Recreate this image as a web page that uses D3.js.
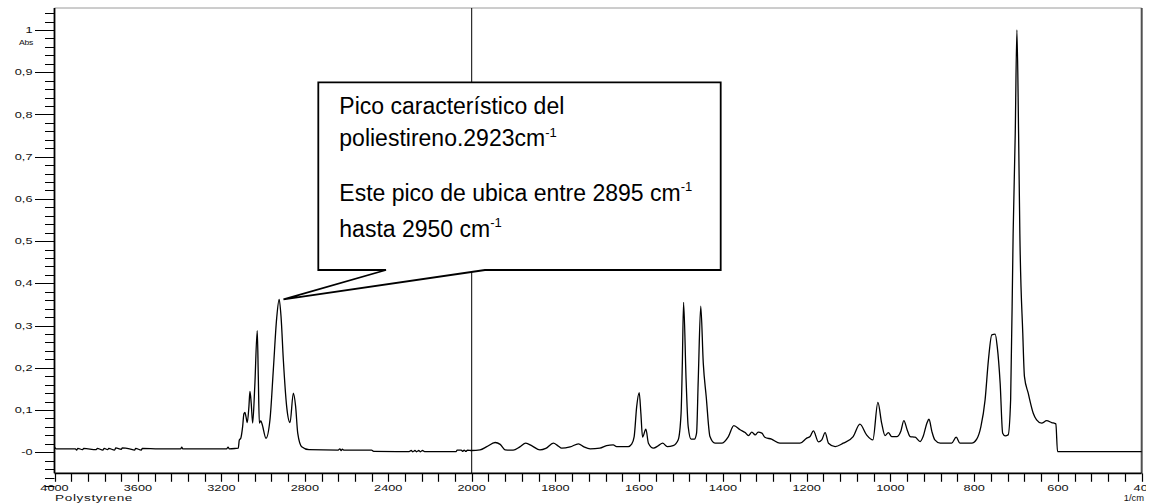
<!DOCTYPE html>
<html>
<head>
<meta charset="utf-8">
<script src="https://cdn.jsdelivr.net/npm/d3@7"></script>
<style>
  body { margin: 0; background: #fff; }
  svg { display: block; }
</style>
</head>
<body>
<svg id="chart" width="1155" height="504"></svg>
<script>
// FTIR absorbance spectrum of polystyrene (wavenumber in 1/cm, absorbance)
const wavenumbers = [
  4000, 3992, 3960, 3900, 3894, 3888, 3866, 3860, 3800, 3795, 3768, 3762, 3745, 3740,
  3712, 3706, 3680, 3675, 3640, 3616, 3611, 3584, 3579, 3500, 3395, 3390, 3385, 3300,
  3175, 3168, 3162, 3130, 3119, 3114, 3107, 3098, 3092, 3087, 3082, 3076, 3068, 3063,
  3057, 3050, 3040, 3028, 3023, 3018, 3011, 3005, 2986, 2967, 2951, 2935, 2923, 2914,
  2903, 2887, 2871, 2855, 2844, 2834, 2815, 2780, 2640, 2632, 2626, 2620, 2612, 2480,
  2470, 2300, 2290, 2282, 2272, 2264, 2254, 2246, 2236, 2226, 2160, 2074, 2070, 2050,
  2044, 2036, 2028, 2020, 2000, 1980, 1964, 1944, 1932, 1920, 1901, 1885, 1871, 1856,
  1837, 1823, 1805, 1794, 1785, 1765, 1745, 1732, 1717, 1694, 1678, 1662, 1654, 1626,
  1618, 1612, 1606, 1600, 1596, 1592, 1584, 1578, 1566, 1554, 1544, 1533, 1519, 1507,
  1500, 1497, 1494, 1488, 1483, 1476, 1468, 1463, 1459, 1453, 1447, 1440, 1431, 1419,
  1403, 1387, 1374, 1359, 1347, 1339, 1331, 1323, 1316, 1307, 1300, 1284, 1264, 1216,
  1200, 1192, 1184, 1172, 1164, 1156, 1148, 1132, 1113, 1089, 1073, 1057, 1042, 1030,
  1021, 1013, 1005, 997, 985, 975, 968, 960, 953, 941, 929, 922, 913, 908,
  901, 894, 881, 854, 843, 834, 806, 794, 784, 774, 766, 758, 750, 745,
  738, 732, 726, 719, 713, 707, 702, 698, 694, 691, 684, 680, 671, 659,
  651, 639, 627, 615, 605, 601, 400
];
const absorbance = [
  0.012, 0.008, 0.008, 0.008, 0.005, 0.009, 0.006, 0.009, 0.006, 0.009, 0.005, 0.009, 0.006, 0.009,
  0.005, 0.010, 0.007, 0.010, 0.008, 0.005, 0.009, 0.005, 0.009, 0.008, 0.008, 0.012, 0.008, 0.008,
  0.008, 0.012, 0.008, 0.009, 0.0095, 0.029, 0.033, 0.061, 0.091, 0.094, 0.084, 0.070, 0.108, 0.144,
  0.116, 0.069, 0.155, 0.288, 0.179, 0.069, 0.074, 0.067, 0.033, 0.077, 0.195, 0.317, 0.362, 0.321,
  0.219, 0.108, 0.070, 0.140, 0.108, 0.045, 0.013, 0.006, 0.005, 0.008, 0.004, 0.007, 0.005, 0.005,
  0.002, 0.0015, 0.004, 0.001, 0.004, 0.001, 0.004, 0.001, 0.004, 0.0015, 0.0015, 0.0015, 0.005, 0.005,
  0.002, 0.005, 0.002, 0.005, 0.004, 0.0054, 0.013, 0.023, 0.0185, 0.0054, 0.0047, 0.0125, 0.0213, 0.015,
  0.0054, 0.009, 0.0213, 0.015, 0.0095, 0.0125, 0.0197, 0.0125, 0.0078, 0.0095, 0.0156, 0.0173, 0.0133, 0.0133,
  0.019, 0.037, 0.108, 0.141, 0.092, 0.0355, 0.0545, 0.0213, 0.0095, 0.0156, 0.0213, 0.0133, 0.0156, 0.029,
  0.092, 0.21, 0.355, 0.171, 0.0606, 0.0308, 0.0308, 0.045, 0.171, 0.346, 0.211, 0.132, 0.037, 0.0213,
  0.0213, 0.037, 0.063, 0.053, 0.0464, 0.0393, 0.0474, 0.041, 0.0474, 0.045, 0.0355, 0.0308, 0.0213, 0.0213,
  0.0332, 0.037, 0.0504, 0.0244, 0.0291, 0.0464, 0.0213, 0.0133, 0.0213, 0.037, 0.0663, 0.041, 0.0291, 0.118,
  0.0687, 0.0393, 0.0464, 0.037, 0.037, 0.0504, 0.0748, 0.0528, 0.037, 0.0355, 0.0251, 0.037, 0.0687, 0.078,
  0.0488, 0.0291, 0.0213, 0.0213, 0.0355, 0.0213, 0.0213, 0.0308, 0.0606, 0.1238, 0.2186, 0.2778, 0.2794, 0.25,
  0.163, 0.045, 0.0386, 0.041, 0.1238, 0.5186, 0.755, 1.0, 0.755, 0.5186, 0.2818, 0.179, 0.1397, 0.0924,
  0.0765, 0.0687, 0.0748, 0.0701, 0.067, 0.0014, 0.0014
];

// Axis ticks and labels
const xMajorTicks  = [4000, 3600, 3200, 2800, 2400, 2000, 1800, 1600, 1400, 1200, 1000, 800, 600, 400];
const xTickLabels  = ["4000", "3600", "3200", "2800", "2400", "2000", "1800", "1600", "1400", "1200", "1000", "800", "600", "400"];
const yMajorTicks  = [0, 0.1, 0.2, 0.3, 0.4, 0.5, 0.6, 0.7, 0.8, 0.9, 1];
const yTickLabels  = ["-0", "0,1", "0,2", "0,3", "0,4", "0,5", "0,6", "0,7", "0,8", "0,9", "1"];

// Annotation
const peakWavenumber = 2923;
const calloutLines = [
  { text: "Pico característico del", sup: null },
  { text: "poliestireno.2923cm", sup: "-1" },
  { text: "Este pico de ubica entre 2895 cm", sup: "-1" },
  { text: "hasta 2950 cm", sup: "-1" }
];

const FONT = "'Liberation Sans', Arial, sans-serif";
const svg = d3.select("#chart");

// The wavenumber axis is compressed 2:1 above 2000 1/cm
const x = d3.scaleLinear().domain([4000, 2000, 400]).range([54.5, 471.7, 1141.7]);
const y = d3.scaleLinear().domain([-0.05, 1.052]).range([473.3, 8]);

const x0 = x(4000), x1 = x(400), yTop = y(1.052), yBot = y(-0.05);

svg.append("defs").append("clipPath").attr("id", "pageClip")
  .append("rect").attr("x", 0).attr("y", 0).attr("width", 1146).attr("height", 504);

// Frame
svg.append("line").attr("x1", x0).attr("x2", x1).attr("y1", yTop).attr("y2", yTop)
  .attr("stroke", "#9a9a9a").attr("stroke-width", 1);
svg.append("line").attr("x1", x1).attr("x2", x1).attr("y1", yTop).attr("y2", yBot)
  .attr("stroke", "#505050").attr("stroke-width", 2);

// Divider at 2000 1/cm where the scale changes
svg.append("line").attr("x1", x(2000)).attr("x2", x(2000)).attr("y1", yTop).attr("y2", yBot)
  .attr("stroke", "#000").attr("stroke-width", 1);

// Y axis: minor ticks every 0.02, major every 0.1
const yMinor = d3.range(-4, 53, 1).map(i => i * 0.02).filter(v => v <= 1.045);
svg.append("g").selectAll("line").data(yMinor).join("line")
  .attr("x1", 45).attr("x2", x0)
  .attr("y1", d => Math.round(y(d)) + 0.5).attr("y2", d => Math.round(y(d)) + 0.5)
  .attr("stroke", "#000").attr("stroke-width", 1);
svg.append("g").selectAll("line").data(yMajorTicks).join("line")
  .attr("x1", 35).attr("x2", x0)
  .attr("y1", d => Math.round(y(d)) + 0.5).attr("y2", d => Math.round(y(d)) + 0.5)
  .attr("stroke", "#000").attr("stroke-width", 1);
svg.append("g").selectAll("g").data(yMajorTicks).join("g")
  .attr("transform", d => `translate(32.5,${y(d) + 3.2}) scale(1.5,1)`)
  .append("text")
  .attr("text-anchor", "end")
  .attr("font-family", FONT).attr("font-size", 8.5).attr("fill", "#111")
  .text((d, i) => yTickLabels[i]);

svg.append("g").attr("transform", "translate(26,45) scale(1.15,1)")
  .append("text").attr("text-anchor", "middle")
  .attr("font-family", FONT).attr("font-size", 7.5).attr("fill", "#111")
  .attr("letter-spacing", -0.3).text("Abs");

// X axis: five minor intervals between labelled ticks
const xMinor = d3.range(4000, 2000, -80).concat(d3.range(2000, 399, -40));
svg.append("g").selectAll("line").data(xMinor).join("line")
  .attr("x1", d => Math.round(x(d)) + 0.5).attr("x2", d => Math.round(x(d)) + 0.5)
  .attr("y1", yBot).attr("y2", yBot + 8.5)
  .attr("stroke", "#000").attr("stroke-width", 1.2);
svg.append("g").attr("clip-path", "url(#pageClip)")
  .selectAll("g").data(xMajorTicks).join("g")
  .attr("transform", d => `translate(${d === 400 ? x(d) + 2.5 : x(d)},490.8) scale(1.5,1)`)
  .append("text")
  .attr("text-anchor", "middle")
  .attr("font-family", FONT).attr("font-size", 8.5).attr("fill", "#111")
  .text((d, i) => xTickLabels[i]);

svg.append("g").attr("transform", "translate(55,500.5) scale(1.6,1)")
  .append("text").attr("font-family", FONT).attr("font-size", 8.5).attr("fill", "#111")
  .attr("letter-spacing", 0.4).text("Polystyrene");
svg.append("g").attr("transform", "translate(1144,500.5) scale(1.1,1)")
  .append("text").attr("text-anchor", "end")
  .attr("font-family", FONT).attr("font-size", 8.5).attr("fill", "#111").text("1/cm");

// Axis lines
svg.append("line").attr("x1", x0).attr("x2", x0).attr("y1", yTop).attr("y2", yBot)
  .attr("stroke", "#000").attr("stroke-width", 1.8);
svg.append("line").attr("x1", x0).attr("x2", x1).attr("y1", yBot).attr("y2", yBot)
  .attr("stroke", "#000").attr("stroke-width", 1.8);

// Spectrum
const points = wavenumbers.map((w, i) => [w, absorbance[i]]);
const line = d3.line().x(d => x(d[0])).y(d => y(d[1])).curve(d3.curveMonotoneX);
svg.append("path").datum(points)
  .attr("d", line)
  .attr("fill", "none").attr("stroke", "#000").attr("stroke-width", 1.3)
  .attr("stroke-linejoin", "round");

// Callout pointing at the 2923 1/cm band
const peakAbs = absorbance[wavenumbers.indexOf(peakWavenumber)];
const tip = [x(peakWavenumber) + 4.3, y(peakAbs)];
const box = { left: 318.3, top: 82.3, right: 720.7, bottom: 270 };
const baseA = 386, baseB = 485;
const callout = d3.path();
callout.moveTo(box.left, box.top);
callout.lineTo(box.right, box.top);
callout.lineTo(box.right, box.bottom);
callout.lineTo(baseB, box.bottom);
callout.lineTo(tip[0], tip[1]);
callout.lineTo(baseA, box.bottom);
callout.lineTo(box.left, box.bottom);
callout.closePath();
svg.append("path").attr("d", callout.toString())
  .attr("fill", "#fff").attr("stroke", "#000").attr("stroke-width", 1.8)
  .attr("stroke-linejoin", "miter");

const baselines = [114, 146, 200.7, 236.7];
calloutLines.forEach((ln, i) => {
  const t = svg.append("text")
    .attr("x", 339.3).attr("y", baselines[i])
    .attr("font-family", FONT).attr("font-size", 23).attr("fill", "#000");
  t.append("tspan").text(ln.text);
  if (ln.sup) {
    t.append("tspan").attr("dy", -9.5).attr("font-size", 13).text(ln.sup);
  }
});
</script>
</body>
</html>
